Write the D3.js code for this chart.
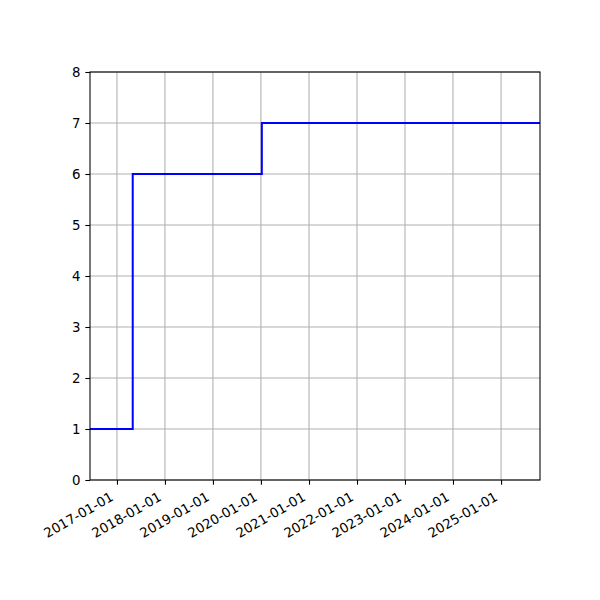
<!DOCTYPE html>
<html>
<head>
<meta charset="utf-8">
<script src="https://cdn.jsdelivr.net/npm/d3@7"></script>
<style>
  body { margin: 0; background: #fff; }
  text { font-family: "DejaVu Sans", sans-serif; font-size: 13.33px; fill: #000; }
</style>
</head>
<body>
<div id="chart"></div>
<script>
// step series (value holds until next date)
var stepDates = ["2016-06-10", "2017-05-01", "2020-01-08", "2025-10-24"];
var stepValues = [1, 6, 7, 7];

var xTickDates = ["2017-01-01", "2018-01-01", "2019-01-01", "2020-01-01", "2021-01-01",
                  "2022-01-01", "2023-01-01", "2024-01-01", "2025-01-01"];
var yTicks = [0, 1, 2, 3, 4, 5, 6, 7, 8];

var parse = d3.utcParse("%Y-%m-%d");

var margin = { top: 72, right: 60, bottom: 120, left: 90 },
    width = 600 - margin.left - margin.right,
    height = 600 - margin.top - margin.bottom;

var svg = d3.select("#chart").append("svg")
    .attr("width", 600)
    .attr("height", 600)
  .append("g")
    .attr("transform", "translate(" + margin.left + "," + margin.top + ")");

var data = [];
for (var i = 0; i < stepDates.length; i++) {
    data.push({ date: parse(stepDates[i]), value: stepValues[i] });
}

var x = d3.scaleUtc()
    .domain(d3.extent(data, function(d) { return d.date; }))
    .range([0, width]);

var y = d3.scaleLinear()
    .domain([0, 8])
    .range([height, 0]);

var tickDates = xTickDates.map(function(s) { return parse(s); });

// grid
svg.append("g").selectAll("line.vgrid")
    .data(tickDates)
  .enter().append("line")
    .attr("x1", function(d) { return x(d); })
    .attr("x2", function(d) { return x(d); })
    .attr("y1", 0)
    .attr("y2", height)
    .attr("stroke", "#b0b0b0")
    .attr("stroke-width", 1.07);

svg.append("g").selectAll("line.hgrid")
    .data(yTicks)
  .enter().append("line")
    .attr("x1", 0)
    .attr("x2", width)
    .attr("y1", function(d) { return y(d); })
    .attr("y2", function(d) { return y(d); })
    .attr("stroke", "#b0b0b0")
    .attr("stroke-width", 1.07);

// the step line
var line = d3.line()
    .curve(d3.curveStepAfter)
    .x(function(d) { return x(d.date); })
    .y(function(d) { return y(d.value); });

svg.append("path")
    .datum(data)
    .attr("fill", "none")
    .attr("stroke", "#0000ff")
    .attr("stroke-width", 2)
    .attr("d", line);

// axes
var xAxis = svg.append("g")
    .attr("transform", "translate(0," + height + ")")
    .call(d3.axisBottom(x).tickValues(tickDates).tickSize(4.7).tickSizeOuter(0)
        .tickFormat(d3.utcFormat("%Y-%m-%d")));

xAxis.selectAll("text")
    .style("text-anchor", "end")
    .attr("x", 0)
    .attr("y", 0)
    .attr("dy", 0)
    .attr("transform", "translate(-3,19.5) rotate(-30)");

var yAxis = svg.append("g")
    .call(d3.axisLeft(y).tickValues(yTicks).tickSize(4.7).tickSizeOuter(0)
        .tickFormat(d3.format("d")));

yAxis.selectAll("text").attr("x", -9.5);

svg.selectAll(".domain").remove();
svg.selectAll(".tick line").attr("stroke", "#000").attr("stroke-width", 1.07);
svg.selectAll(".tick text").style("font-size", "13.33px").style("font-family", "DejaVu Sans");

// frame
svg.append("rect")
    .attr("x", 0)
    .attr("y", 0)
    .attr("width", width)
    .attr("height", height)
    .attr("fill", "none")
    .attr("stroke", "#000")
    .attr("stroke-width", 1.07);
</script>
</body>
</html>
